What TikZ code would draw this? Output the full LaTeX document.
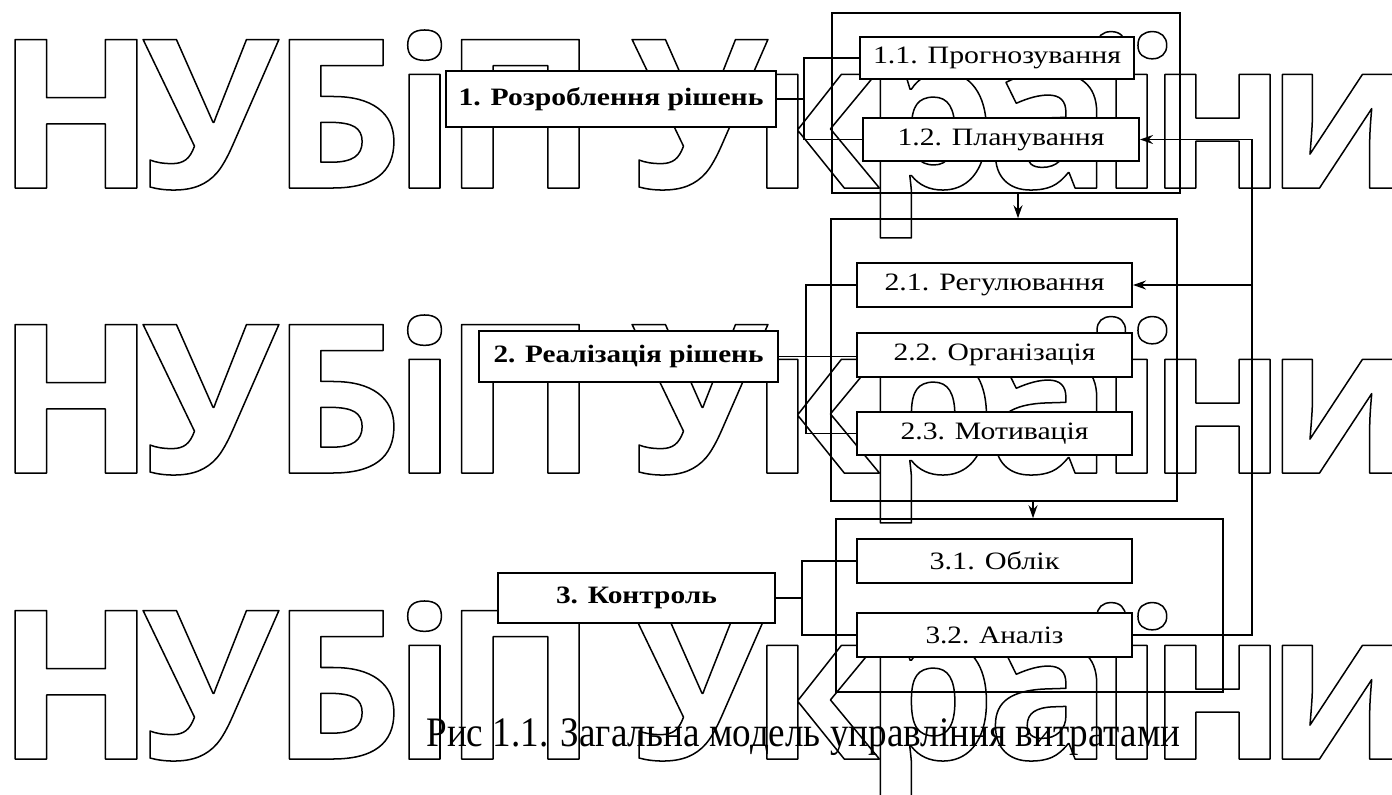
\documentclass[tikz,border=0pt]{standalone}
\usepackage{graphicx}
\usepackage{fontspec}
\setmainfont{Liberation Serif}
\newfontfamily\wmfont{Open Sans}
\usetikzlibrary{arrows.meta}
\newdimen\unitpx \unitpx=0.5pt
\newcommand\fw[2]{\resizebox{#1\unitpx}{\height}{#2}}
\newcommand\outlinetext[1]{\special{pdf:literal direct 1 Tr 0.75 w 1 j}#1\special{pdf:literal direct 0 Tr}}
\begin{document}
\begin{tikzpicture}[x=0.5pt,y=-0.5pt,
  box/.style={draw, line width=1pt, fill=white, inner sep=0pt, font=\fontsize{12.5pt}{14pt}\selectfont},
  mainbox/.style={box, font=\bfseries\fontsize{12.5pt}{14pt}\selectfont},
  outer/.style={draw, line width=0.8pt, inner sep=0pt},
  conn/.style={line width=0.7pt},
  arr/.style={conn, -{Stealth[length=6.5pt,width=4.5pt]}},
  wm/.style={anchor=base, inner sep=0pt, outer sep=0pt, font=\wmfont\bfseries\fontsize{104pt}{110pt}\selectfont}]
\useasboundingbox (0,0) rectangle (1392,794);
% watermark "НУБіП України", three rows
\foreach \yy [count=\r] in {188,473,759}{
  \foreach \ch/\xx [count=\i] in {Н/76, У/211, Б/337, і/424.5, П/520.5, У/700, к/815, р/930, а/1049.5, ї/1131.5, н/1217.5, и/1341}
    \node[wm] (wm\r-\i) at (\xx,\yy) {\outlinetext{\ch}};
}
% outer frames
\node[outer, minimum width=174pt, minimum height=90pt] (o1) at (1006,103) {};
\node[outer, minimum width=173pt, minimum height=141pt] (o2) at (1004,360) {};
\node[outer, minimum width=193.5pt, minimum height=86.5pt] (o3) at (1029.5,605.5) {};
% main boxes
\node[mainbox, minimum width=165pt, minimum height=28pt] (b1) at (611,99) {\fw{305}{1. Розроблення рішень}};
\node[mainbox, minimum width=149.5pt, minimum height=25.5pt] (b2) at (628.5,356.5) {\fw{270}{2. Реалізація рішень}};
\node[mainbox, minimum width=138.5pt, minimum height=25pt] (b3) at (636.5,598) {\fw{161}{3. Контроль}};
% sub boxes
\node[box, minimum width=137pt, minimum height=21pt] (b11) at (997,58) {\fw{248}{1.1. Прогнозування}};
\node[box, minimum width=138pt, minimum height=21.5pt] (b12) at (1001,139.5) {\fw{207}{1.2. Планування}};
\node[box, minimum width=137.5pt, minimum height=22pt] (b21) at (994.5,285) {\fw{220}{2.1. Регулювання}};
\node[box, minimum width=137.5pt, minimum height=22pt] (b22) at (994.5,355) {\fw{202}{2.2. Організація}};
\node[box, minimum width=137.5pt, minimum height=21.5pt] (b23) at (994.5,433.5) {\fw{188}{2.3. Мотивація}};
\node[box, minimum width=137.5pt, minimum height=22pt] (b31) at (994.5,561) {\fw{130}{3.1. Облік}};
\node[box, minimum width=137.5pt, minimum height=22pt] (b32) at (994.5,635) {\fw{138}{3.2. Аналіз}};
% caption
\node[anchor=base west, inner sep=0pt, font=\fontsize{21pt}{24pt}\selectfont] (cap) at (426,746) {\fw{754}{Рис 1.1. Загальна модель управління витратами}};
% helper coordinates
\coordinate (k1) at (804,0);
\coordinate (k2) at (806,0);
\coordinate (k3) at (802,0);
\coordinate (fb) at (1252,0);
\coordinate (a1) at (1018,0);
\coordinate (a2) at (1033,0);
% connectors
\draw[conn] (b1.east) -- (k1 |- b1.east);
\draw[conn] (b11.west) -| (k1 |- b12.west) -- (b12.west);
\draw[conn] (b2.east) -- (b2.east -| b22.west);
\draw[conn] (b21.west) -| (k2 |- b23.west) -- (b23.west);
\draw[conn] (b3.east) -- (k3 |- b3.east);
\draw[conn] (b31.west) -| (k3 |- b32.west) -- (b32.west);
\draw[arr] (a1 |- o1.south) -- (a1 |- o2.north);
\draw[arr] (a2 |- o2.south) -- (a2 |- o3.north);
\draw[arr] (b32.east) -- (fb |- b32.east) |- (b12.east);
\draw[arr] (fb |- b21.east) -- (b21.east);
\end{tikzpicture}
\end{document}
